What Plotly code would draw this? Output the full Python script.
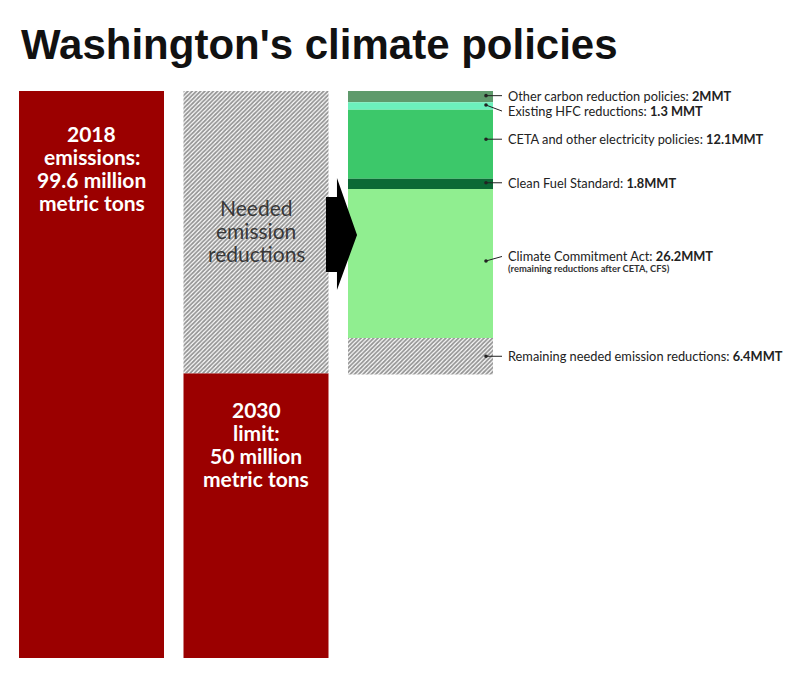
import plotly.graph_objects as go

# ---- data (million metric tons) ----
categories = ["2018", "2030", "policies"]
emissions_2018 = 99.6
limit_2030 = 50
policy_names = [
    "Other carbon reduction policies",
    "Existing HFC reductions",
    "CETA and other electricity policies",
    "Clean Fuel Standard",
    "Climate Commitment Act",
    "Remaining needed emission reductions",
]
policy_values = [2, 1.3, 12.1, 1.8, 26.2, 6.4]
policy_units = ["MMT", " MMT", "MMT", "MMT", "MMT", "MMT"]

# ---- styles ----
# the page body has an 8px margin, so the figure is drawn 8px in from the window
OFF = 8
W, H = 800 - 2 * OFF, 677 - 2 * OFF
K = 5.693                  # px per MMT
Y0_PX = 658 - OFF          # figure row of y = 0
COL_PX = 164.5             # px between column centres
X0_PX = 91.5 - OFF         # figure column of first category centre
BAR_W = 145 / COL_PX

RED = "#9b0000"
POLICY_COLORS = ["#5f9a6c", "#6cf0bc", "#3cc86a", "#0b6a35", "#90ee90", None]
HATCH = dict(shape="/", fgcolor="#2a2a2a", bgcolor="white", size=3, solidity=0.6)
FONT = "Lato"

# label nudges in px (down positive): dot, text
DOT_NUDGE = [-1, -1, -5, -1, -2.5, 0]
TEXT_NUDGE = [-1, 5, -5, -1, -7, 0]


def px_x(px):
    """window pixel -> paper x"""
    return (px - OFF) / W


def px_y(py):
    """window pixel -> paper y"""
    return 1 - (py - OFF) / H


fig = go.Figure()

fig.add_trace(go.Bar(
    x=[categories[0]], y=[emissions_2018], width=BAR_W,
    marker=dict(color=RED, line=dict(width=0)), hoverinfo="skip",
))
fig.add_trace(go.Bar(
    x=[categories[1]], y=[limit_2030], width=BAR_W,
    marker=dict(color=RED, line=dict(width=0)), hoverinfo="skip",
))
fig.add_trace(go.Bar(
    x=[categories[1]], y=[emissions_2018 - limit_2030], base=[limit_2030],
    width=BAR_W, marker=dict(color="white", pattern=HATCH, line=dict(width=0)),
    hoverinfo="skip",
))

# policies stacked down from the 2018 level
top = emissions_2018
mids = []
for name, v, c in zip(policy_names, policy_values, POLICY_COLORS):
    base = top - v
    marker = dict(color=c, line=dict(width=0)) if c else dict(
        color="white", pattern=HATCH, line=dict(width=0))
    fig.add_trace(go.Bar(
        x=[categories[2]], y=[v], base=[base], width=BAR_W,
        marker=marker, name=name, hoverinfo="skip",
    ))
    mids.append(base + v / 2)
    top = base

annotations = []

# title
annotations.append(dict(
    x=px_x(19), y=px_y(45), xref="paper", yref="paper",
    xanchor="left", yanchor="middle", showarrow=False,
    text="<b>Washington's climate policies</b>",
    font=dict(family="Liberation Sans", size=42, color="#111"),
))


def bar_lines(idx, top_val, first_px, lines, color, bold=True, spacing=23):
    for i, line in enumerate(lines):
        annotations.append(dict(
            x=idx, y=top_val, xref="x", yref="y", showarrow=False,
            yanchor="middle", yshift=-(first_px + i * spacing),
            text=f"<b>{line}</b>" if bold else line,
            font=dict(family=FONT, size=21, color=color),
        ))


bar_lines(0, emissions_2018, 43,
          ["2018", "emissions:", f"{emissions_2018} million", "metric tons"], "white")
bar_lines(1, emissions_2018, 117,
          ["Needed", "emission", "reductions"], "#383838", bold=False)
bar_lines(1, limit_2030, 36,
          ["2030", "limit:", f"{limit_2030} million", "metric tons"], "white")

shapes = []
for name, v, u, m, dn, tn in zip(policy_names, policy_values, policy_units,
                                 mids, DOT_NUDGE, TEXT_NUDGE):
    annotations.append(dict(
        x=px_x(506), y=m, xref="paper", yref="y", showarrow=False,
        xanchor="left", yanchor="middle", yshift=-tn,
        text=f"{name}: <b>{v:g}{u}</b>",
        font=dict(family=FONT, size=12.8, color="#222"),
    ))
    shapes.append(dict(
        type="line", xref="paper", yref="y", ysizemode="pixel", yanchor=m,
        x0=px_x(486), x1=px_x(502), y0=-dn, y1=-tn,
        line=dict(color="#222", width=1),
    ))
    shapes.append(dict(
        type="circle", xref="paper", yref="y", xsizemode="pixel",
        ysizemode="pixel", xanchor=px_x(486), yanchor=m,
        x0=-1.8, x1=1.8, y0=-dn - 1.8, y1=-dn + 1.8,
        fillcolor="#222", line=dict(width=0),
    ))
    if name == "Climate Commitment Act":
        annotations.append(dict(
            x=px_x(506), y=m, xref="paper", yref="y", showarrow=False,
            xanchor="left", yanchor="middle", yshift=-tn - 12.5,
            text="<b>(remaining reductions after CETA, CFS)</b>",
            font=dict(family=FONT, size=9.4, color="#333"),
        ))

# block arrow between the 2030 column and the policy column
arrow_pts = [(326, 197), (337, 197), (337, 178), (357, 235),
             (337, 290), (337, 272), (326, 272)]
path = "M " + " L ".join(f"{px_x(a):.4f},{px_y(b):.4f}" for a, b in arrow_pts) + " Z"
shapes.append(dict(type="path", xref="paper", yref="paper", path=path,
                   fillcolor="black", line=dict(width=0)))

fig.update_layout(
    width=W, height=H, barmode="overlay", showlegend=False,
    plot_bgcolor="white", paper_bgcolor="white",
    margin=dict(l=0, r=0, t=0, b=0),
    annotations=annotations, shapes=shapes,
    xaxis=dict(type="category", categoryorder="array", categoryarray=categories,
               range=[-X0_PX / COL_PX, (W - X0_PX) / COL_PX],
               visible=False, fixedrange=True),
    yaxis=dict(range=[(Y0_PX - H) / K, Y0_PX / K], visible=False, fixedrange=True),
)

fig.write_html("out.html")
